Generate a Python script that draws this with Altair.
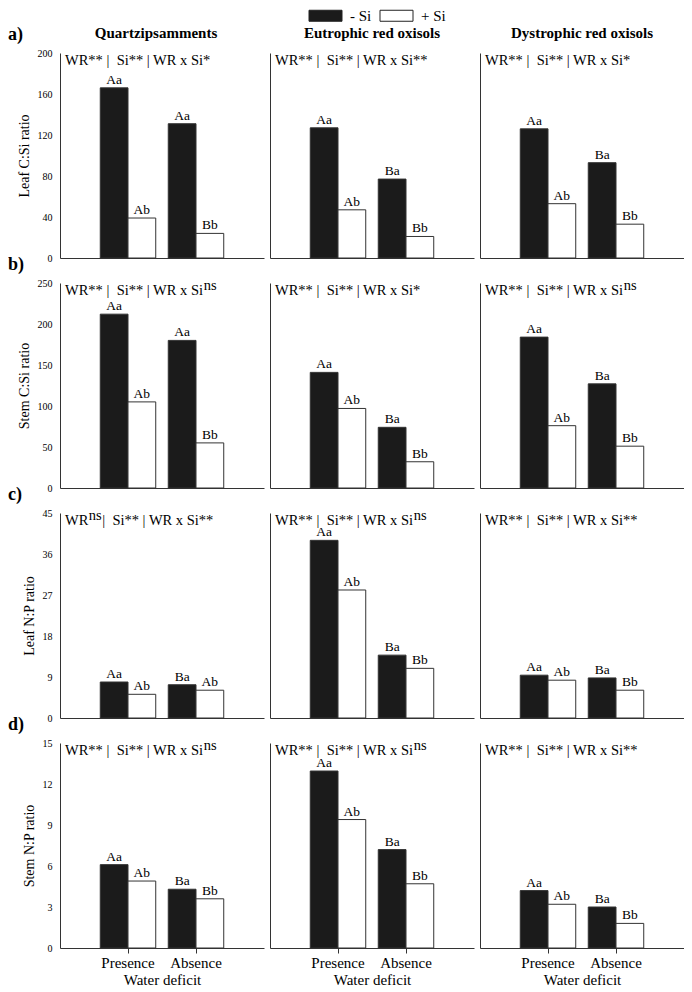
import altair as alt
import pandas as pd

deficit = ["Presence", "Absence"]
treatments = ["- Si", "+ Si"]
soils = ["Quartzipsamments", "Eutrophic red oxisols", "Dystrophic red oxisols"]
variables = ["Leaf C:Si ratio", "Stem C:Si ratio", "Leaf N:P ratio", "Stem N:P ratio"]
row_tags = ["a)", "b)", "c)", "d)"]
y_max = [200, 250, 45, 15]
y_step = [40, 50, 9, 3]

# bar order in each panel: Presence -Si, Presence +Si, Absence -Si, Absence +Si
leaf_csi_quartz = [166, 39, 131, 24]
leaf_csi_eutro = [127, 47, 77, 21]
leaf_csi_dystro = [126, 53, 93, 33]
stem_csi_quartz = [212, 105, 180, 55]
stem_csi_eutro = [141, 97, 74, 32]
stem_csi_dystro = [184, 76, 127, 51]
leaf_np_quartz = [7.9, 5.2, 7.3, 6.1]
leaf_np_eutro = [39.0, 28.1, 13.8, 10.9]
leaf_np_dystro = [9.4, 8.3, 8.8, 6.1]
stem_np_quartz = [6.1, 4.9, 4.3, 3.6]
stem_np_eutro = [12.95, 9.4, 7.2, 4.7]
stem_np_dystro = [4.2, 3.2, 3.0, 1.8]

letters_leaf_csi = [["Aa", "Ab", "Aa", "Bb"], ["Aa", "Ab", "Ba", "Bb"], ["Aa", "Ab", "Ba", "Bb"]]
letters_stem_csi = [["Aa", "Ab", "Aa", "Bb"], ["Aa", "Ab", "Ba", "Bb"], ["Aa", "Ab", "Ba", "Bb"]]
letters_leaf_np = [["Aa", "Ab", "Ba", "Ab"], ["Aa", "Ab", "Ba", "Bb"], ["Aa", "Ab", "Ba", "Bb"]]
letters_stem_np = [["Aa", "Ab", "Ba", "Bb"], ["Aa", "Ab", "Ba", "Bb"], ["Aa", "Ab", "Ba", "Bb"]]

NB = "\u00a0"
# ANOVA significance text: (main text, superscript, text after superscript)
anova_leaf_csi = [("WR** |" + NB + " Si** | WR x Si*", "", ""),
                  ("WR** |" + NB + " Si** | WR x Si**", "", ""),
                  ("WR** |" + NB + " Si** | WR x Si*", "", "")]
anova_stem_csi = [("WR** |" + NB + " Si** | WR x Si", "ns", ""),
                  ("WR** |" + NB + " Si** | WR x Si*", "", ""),
                  ("WR** |" + NB + " Si** | WR x Si", "ns", "")]
anova_leaf_np = [("WR", "ns", "|" + NB + " Si** | WR x Si**"),
                 ("WR** |" + NB + " Si** | WR x Si", "ns", ""),
                 ("WR** |" + NB + " Si** | WR x Si**", "", "")]
anova_stem_np = [("WR** |" + NB + " Si** | WR x Si", "ns", ""),
                 ("WR** |" + NB + " Si** | WR x Si", "ns", ""),
                 ("WR** |" + NB + " Si** | WR x Si**", "", "")]

values = [
    [leaf_csi_quartz, leaf_csi_eutro, leaf_csi_dystro],
    [stem_csi_quartz, stem_csi_eutro, stem_csi_dystro],
    [leaf_np_quartz, leaf_np_eutro, leaf_np_dystro],
    [stem_np_quartz, stem_np_eutro, stem_np_dystro],
]
letters = [letters_leaf_csi, letters_stem_csi, letters_leaf_np, letters_stem_np]
anova = [anova_leaf_csi, anova_stem_csi, anova_leaf_np, anova_stem_np]

FONT = "Liberation Serif"
W, H = 204, 205
ANN_FS = 14.5

# Times-compatible glyph advance widths (per 1000 em) used to place superscripts
GLYPH = {"W": 944, "R": 667, "*": 500, " ": 250, NB: 250, "|": 200, "S": 556, "i": 278,
         "x": 500, "n": 500, "s": 389}


def text_width(s, fs):
    return sum(GLYPH.get(ch, 500) for ch in s) * fs / 1000.0


legend = alt.Legend(
    orient="none", legendX=258, legendY=-45, direction="horizontal", title=None,
    symbolType="M-3,-1H3V1H-3Z", symbolSize=121,
    symbolStrokeColor="#222", symbolStrokeWidth=1,
    labelFont=FONT, labelFontSize=15, labelColor="black",
    labelOffset=17, columnPadding=6, padding=0,
)


def text_layer(txt, x, y, **kw):
    return alt.Chart(pd.DataFrame({"t": [txt]})).mark_text(font=FONT, **kw).encode(
        text="t:N", x=alt.value(x), y=alt.value(y)
    )


def panel(r, c):
    vals = values[r][c]
    lets = letters[r][c]
    df = pd.DataFrame({
        "deficit": [deficit[0], deficit[0], deficit[1], deficit[1]],
        "treatment": [treatments[0], treatments[1], treatments[0], treatments[1]],
        "value": vals,
        "letter": lets,
    })
    if r == 3:
        xaxis = alt.Axis(title="Water deficit", labelAngle=0, ticks=True, tickSize=5,
                         tickColor="#333", labelFontSize=15, titleFontSize=15,
                         labelPadding=2, titlePadding=2)
    else:
        xaxis = alt.Axis(title=None, labels=False, ticks=False)
    ticks_vals = list(range(0, y_max[r] + 1, y_step[r]))
    if c == 0:
        yaxis = alt.Axis(title=variables[r], values=ticks_vals, ticks=False, labelPadding=8,
                         labelFontSize=10, titleFontSize=14, titlePadding=6)
    else:
        yaxis = alt.Axis(title=None, labels=False, ticks=False, values=ticks_vals)
    x = alt.X("deficit:N", sort=deficit,
              scale=alt.Scale(paddingInner=0.184, paddingOuter=0.592), axis=xaxis)
    xo = alt.XOffset("treatment:N", sort=treatments,
                     scale=alt.Scale(paddingInner=0, paddingOuter=0))
    y = alt.Y("value:Q", scale=alt.Scale(domain=[0, y_max[r]], nice=False), axis=yaxis)
    base = alt.Chart(df)
    bars = base.mark_bar(stroke="#333", strokeWidth=1).encode(
        x=x, xOffset=xo, y=y,
        fill=alt.Fill("treatment:N", sort=treatments,
                      scale=alt.Scale(domain=treatments, range=["#1b1b1b", "#ffffff"]),
                      legend=legend),
    )
    labs = base.mark_text(font=FONT, fontSize=13.5, baseline="bottom", dy=-1, color="black").encode(
        x=x, xOffset=xo, y=y, text="letter:N"
    )
    layers = [bars, labs]
    main, sup, after = anova[r][c]
    x0 = 5
    layers.append(text_layer(main, x0, 12, align="left", baseline="alphabetic",
                             fontSize=ANN_FS, color="black"))
    if sup:
        xs = x0 + text_width(main, ANN_FS) + 0.5
        layers.append(text_layer(sup, xs, 7, align="left", baseline="alphabetic",
                                 fontSize=ANN_FS, color="black"))
        if after:
            xa = xs + text_width(sup, ANN_FS) + 0.5
            layers.append(text_layer(after, xa, 12, align="left", baseline="alphabetic",
                                     fontSize=ANN_FS, color="black"))
    if r == 0:
        dx = -6 if c == 0 else 0
        layers.append(text_layer(soils[c], W / 2 + dx, -20, align="center", baseline="middle",
                                 fontSize=15, fontWeight="bold", color="black"))
    if c == 0:
        layers.append(text_layer(row_tags[r], -52, -18, align="left", baseline="middle",
                                 fontSize=18, fontWeight="bold", color="black"))
    return alt.layer(*layers).properties(width=W, height=H)


panels = [panel(r, c) for r in range(4) for c in range(3)]

chart = alt.concat(
    *panels, columns=3, spacing=alt.RowColnumber(row=25, column=6), bounds="flush"
).properties(
    padding={"left": 0, "top": 0, "right": 0, "bottom": 0}
).configure_view(stroke=None).configure_axis(
    grid=False, domainColor="#333", domainWidth=1,
    labelFont=FONT, titleFont=FONT, labelColor="black", titleColor="black",
    titleFontWeight="normal",
)

chart.save("out.html", embed_options={"renderer": "svg", "actions": False})
